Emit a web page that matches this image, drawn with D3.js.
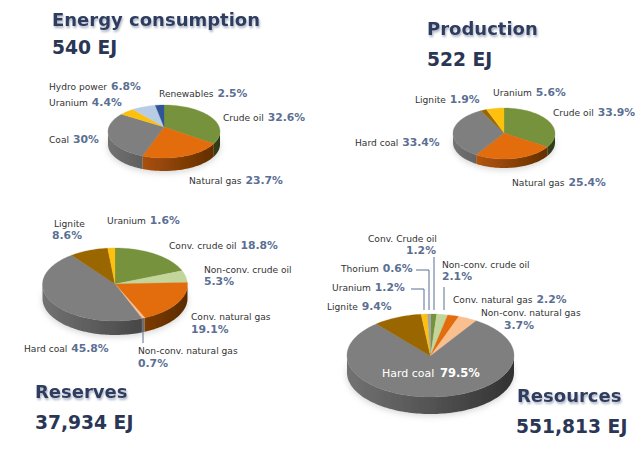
<!DOCTYPE html>
<html><head><meta charset="utf-8">
<style>html,body{margin:0;padding:0;background:#fff}svg{display:block}</style>
<script src="https://cdn.jsdelivr.net/npm/d3@7"></script></head>
<body><svg id="c" width="640" height="449"></svg>
<script>
// ---- data ----
const consumptionNames=["Crude oil","Natural gas","Coal","Uranium","Hydro power","Renewables"];
const consumptionValues=[32.6,23.7,30,4.4,6.8,2.5];
const consumptionLabels=["32.6%","23.7%","30%","4.4%","6.8%","2.5%"];
const productionNames=["Crude oil","Natural gas","Hard coal","Lignite","Uranium"];
const productionValues=[33.9,25.4,33.4,1.9,5.6];
const productionLabels=["33.9%","25.4%","33.4%","1.9%","5.6%"];
const reservesNames=["Conv. crude oil","Non-conv. crude oil","Conv. natural gas","Non-conv. natural gas","Hard coal","Lignite","Uranium"];
const reservesValues=[18.8,5.3,19.1,0.7,45.8,8.6,1.6];
const reservesLabels=["18.8%","5.3%","19.1%","0.7%","45.8%","8.6%","1.6%"];
const resourcesNames=["Conv. Crude oil","Non-conv. crude oil","Conv. natural gas","Non-conv. natural gas","Hard coal","Lignite","Uranium","Thorium"];
const resourcesValues=[1.2,2.1,2.2,3.7,79.5,9.4,1.2,0.6];
const resourcesLabels=["1.2%","2.1%","2.2%","3.7%","79.5%","9.4%","1.2%","0.6%"];

// ---- styling and layout ----
const colorOf={"Crude oil":"#76923c","Conv. crude oil":"#76923c","Conv. Crude oil":"#76923c",
 "Non-conv. crude oil":"#c2d69b","Natural gas":"#e36c0a","Conv. natural gas":"#e36c0a",
 "Non-conv. natural gas":"#fabf8f","Coal":"#7f7f7f","Hard coal":"#7f7f7f","Lignite":"#996600",
 "Uranium":"#fcc010","Hydro power":"#b8cce4","Renewables":"#2f5597","Thorium":"#a6a6a6"};
const panels=[
 {names:consumptionNames,values:consumptionValues,labels:consumptionLabels,
  geo:{cx:164,cy:131.5,rx:56,ry:26.5,ay:127,d:13},
  title:["Energy consumption",52,26],total:["540 EJ",52,54],
  pos:[[223,120.5],[189,184],[49,143],[49,106],[49,90],[159,97]]},
 {names:productionNames,values:productionValues,labels:productionLabels,
  geo:{cx:504,cy:133.5,rx:51,ry:25.5,ay:133,d:9},
  title:["Production",427,35],total:["522 EJ",427,66],
  pos:[[553,116],[512,186],[355,146],[415,103],[493,96]]},
 {names:reservesNames,values:reservesValues,labels:reservesLabels,
  geo:{cx:115,cy:284.5,rx:72.5,ry:36.5,ay:284,d:14},
  title:["Reserves",35,398],total:["37,934 EJ",35,429],
  pos:[[169,249],[204,273,204,285],[191,320,191,333],[138,354,138,367],[24,352],[54,227,52,239],[107,224]],
  leaders:[[[143,318],[143,343]]]},
 {names:resourcesNames,values:resourcesValues,labels:resourcesLabels,
  geo:{cx:430.5,cy:355.5,rx:83.5,ry:41.5,ay:356,d:17},
  title:["Resources",517,402],total:["551,813 EJ",516,433],
  pos:[[368,242,406,254],[442,268,442,280],[453,303],[481,316,504,329],[382,377],[327,310],[332,291],[341,272]],
  white:"Hard coal",
  leaders:[[[416,270],[429,270],[429,310]],[[411,289],[424,289],[424,310]],[[434,257],[434,310]],[[444,287],[444,310]]]}
];
const font="'DejaVu Sans',Verdana,sans-serif";
const svg=d3.select("#c");
svg.append("rect").attr("width",640).attr("height",449).attr("fill","#fff");
const defs=svg.append("defs");
const ts=defs.append("filter").attr("id","ts").attr("x","-10%").attr("y","-30%").attr("width","120%").attr("height","170%");
ts.append("feGaussianBlur").attr("in","SourceAlpha").attr("stdDeviation",1.1).attr("result","b");
ts.append("feOffset").attr("in","b").attr("dx",0.5).attr("dy",1.5).attr("result","o");
ts.append("feFlood").attr("flood-color","#8c97ad").attr("flood-opacity",0.75);
ts.append("feComposite").attr("in2","o").attr("operator","in").attr("result","s");
const m=ts.append("feMerge");m.append("feMergeNode").attr("in","s");m.append("feMergeNode").attr("in","SourceGraphic");
defs.append("filter").attr("id","ps").attr("x","-20%").attr("y","-40%").attr("width","140%").attr("height","180%")
 .append("feGaussianBlur").attr("stdDeviation",3);
const soft=defs.append("filter").attr("id","soft");soft.append("feGaussianBlur").attr("stdDeviation",0.25);

const pieGen=d3.pie().sort(null).value(d=>d).startAngle(0).endAngle(2*Math.PI);
const line=d3.line();
let gid=0;
panels.forEach(p=>{
 const g=p.geo;
 const slices=pieGen(p.values);
 const X=a=>g.cx+g.rx*Math.sin(a), Y=a=>g.cy-g.ry*Math.cos(a);
 const arcPts=(a0,a1,dy=0)=>{const n=Math.max(2,Math.ceil((a1-a0)/0.03));
   return d3.range(n+1).map(i=>{const a=a0+(a1-a0)*i/n;return [X(a),Y(a)+dy];});};
 const layer=svg.append("g").attr("filter","url(#soft)");
 // soft shadow under the pie
 svg.insert("ellipse","g").attr("cx",g.cx).attr("cy",g.cy+g.d+2).attr("rx",g.rx).attr("ry",g.ry)
   .attr("fill","#888").attr("opacity",0.35).attr("filter","url(#ps)");
 // sides
 slices.forEach((s,i)=>{
   const a0=Math.max(s.startAngle,Math.PI/2), a1=Math.min(s.endAngle,3*Math.PI/2);
   if(a1<=a0) return;
   const c=d3.color(colorOf[p.names[i]]), id="g"+(gid++);
   const lg=defs.append("linearGradient").attr("id",id).attr("gradientUnits","userSpaceOnUse")
     .attr("x1",g.cx-g.rx).attr("x2",g.cx+g.rx).attr("y1",0).attr("y2",0);
   lg.append("stop").attr("offset",0).attr("stop-color",c.darker(0.3));
   lg.append("stop").attr("offset",0.5).attr("stop-color",c.darker(1.2));
   lg.append("stop").attr("offset",1).attr("stop-color",c.darker(2.6));
   const top=arcPts(a0,a1), bot=arcPts(a0,a1,g.d).reverse();
   layer.append("path").attr("d",line(top.concat(bot))+"Z").attr("fill",`url(#${id})`);
 });
 // top face
 slices.forEach((s,i)=>{
   const pts=[[g.cx,g.ay]].concat(arcPts(s.startAngle,s.endAngle));
   layer.append("path").attr("d",line(pts)+"Z").attr("fill",colorOf[p.names[i]])
     .attr("stroke",colorOf[p.names[i]]).attr("stroke-width",0.3);
 });
 // leader lines
 (p.leaders||[]).forEach(l=>svg.append("path").attr("d",line(l)).attr("fill","none")
   .attr("stroke","#5b6f93").attr("stroke-width",1));
 // labels
 p.names.forEach((n,i)=>{
   const q=p.pos[i], white=p.white===n;
   const t=svg.append("text").attr("x",q[0]).attr("y",q[1]).attr("font-family",font)
     .attr("font-size",white?11:9.1).attr("fill",white?"#fff":"#333").text(n+(q.length>2?"":" "));
   const v=q.length>2
     ? svg.append("text").attr("x",q[2]).attr("y",q[3]).attr("font-family",font)
     : t.append("tspan").attr("dx",white?2:1);
   v.attr("font-size",white?11.5:10.8).attr("font-weight","bold").attr("fill",white?"#fff":"#5b6f93").text(p.labels[i]);
 });
 // titles
 const tt=svg.append("text").attr("x",p.title[1]).attr("y",p.title[2]).attr("font-family",font)
   .attr("font-weight","bold").attr("font-size",18).attr("fill","#2f3d5f").attr("filter","url(#ts)").text(p.title[0]);
 svg.append("text").attr("x",p.total[1]).attr("y",p.total[2]).attr("font-family",font)
   .attr("font-weight","bold").attr("font-size",18.7).attr("fill","#2a3655").text(p.total[0]);
});
</script></body></html>
